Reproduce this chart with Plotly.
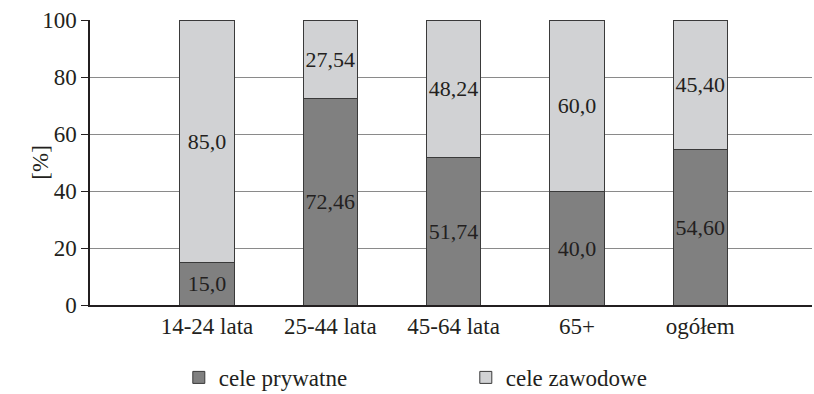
import plotly.graph_objects as go

categories = ["14-24 lata", "25-44 lata", "45-64 lata", "65+", "ogółem"]
prywatne = [15.0, 72.46, 51.74, 40.0, 54.60]
zawodowe = [85.0, 27.54, 48.24, 60.0, 45.40]
prywatne_lbl = ["15,0", "72,46", "51,74", "40,0", "54,60"]
zawodowe_lbl = ["85,0", "27,54", "48,24", "60,0", "45,40"]
y_title = "[%]"

FONT = "Liberation Serif"
TXT = "#231f20"

fig = go.Figure()
fig.add_bar(x=categories, y=prywatne, name="cele prywatne", text=prywatne_lbl,
            marker=dict(color="#808080", line=dict(color="#3a3a3a", width=1)),
            width=0.44, textposition="inside", insidetextanchor="middle",
            textangle=0, constraintext="none",
            insidetextfont=dict(family=FONT, size=22, color=TXT))
fig.add_bar(x=categories, y=zawodowe, name="cele zawodowe", text=zawodowe_lbl,
            marker=dict(color="#d1d2d4", line=dict(color="#3a3a3a", width=1)),
            width=0.44, textposition="inside", insidetextanchor="middle",
            textangle=0, constraintext="none",
            insidetextfont=dict(family=FONT, size=22, color=TXT))

fig.add_annotation(text=y_title, xref="paper", yref="paper", x=-0.069, y=0.5,
                   xanchor="center", yanchor="middle", textangle=-90, showarrow=False,
                   font=dict(family=FONT, size=23, color=TXT))

fig.update_layout(
    barmode="stack",
    width=814, height=394,
    margin=dict(l=90, r=2, t=20, b=89),
    paper_bgcolor="white", plot_bgcolor="white",
    font=dict(family=FONT, size=23, color=TXT),
    showlegend=True,
    legend=dict(orientation="h", x=0.123, xanchor="left",
                yref="container", y=0.042, yanchor="middle",
                entrywidth=242, entrywidthmode="pixels",
                font=dict(family=FONT, size=23, color=TXT), traceorder="normal"),
    xaxis=dict(type="category", range=[-0.949, 4.907], showline=True, linecolor="#231f20",
               linewidth=1.5, ticks="", showgrid=False, zeroline=False,
               tickfont=dict(family=FONT, size=23, color=TXT)),
    yaxis=dict(range=[0, 100], tickvals=[0, 20, 40, 60, 80, 100], showline=True,
               linecolor="#231f20", linewidth=1.5, ticks="outside", ticklen=7,
               tickcolor="#231f20", showgrid=True, gridcolor="#8a8a8a", gridwidth=1,
               zeroline=False, tickfont=dict(family=FONT, size=23, color=TXT)),
)

fig.write_html("out.html")
